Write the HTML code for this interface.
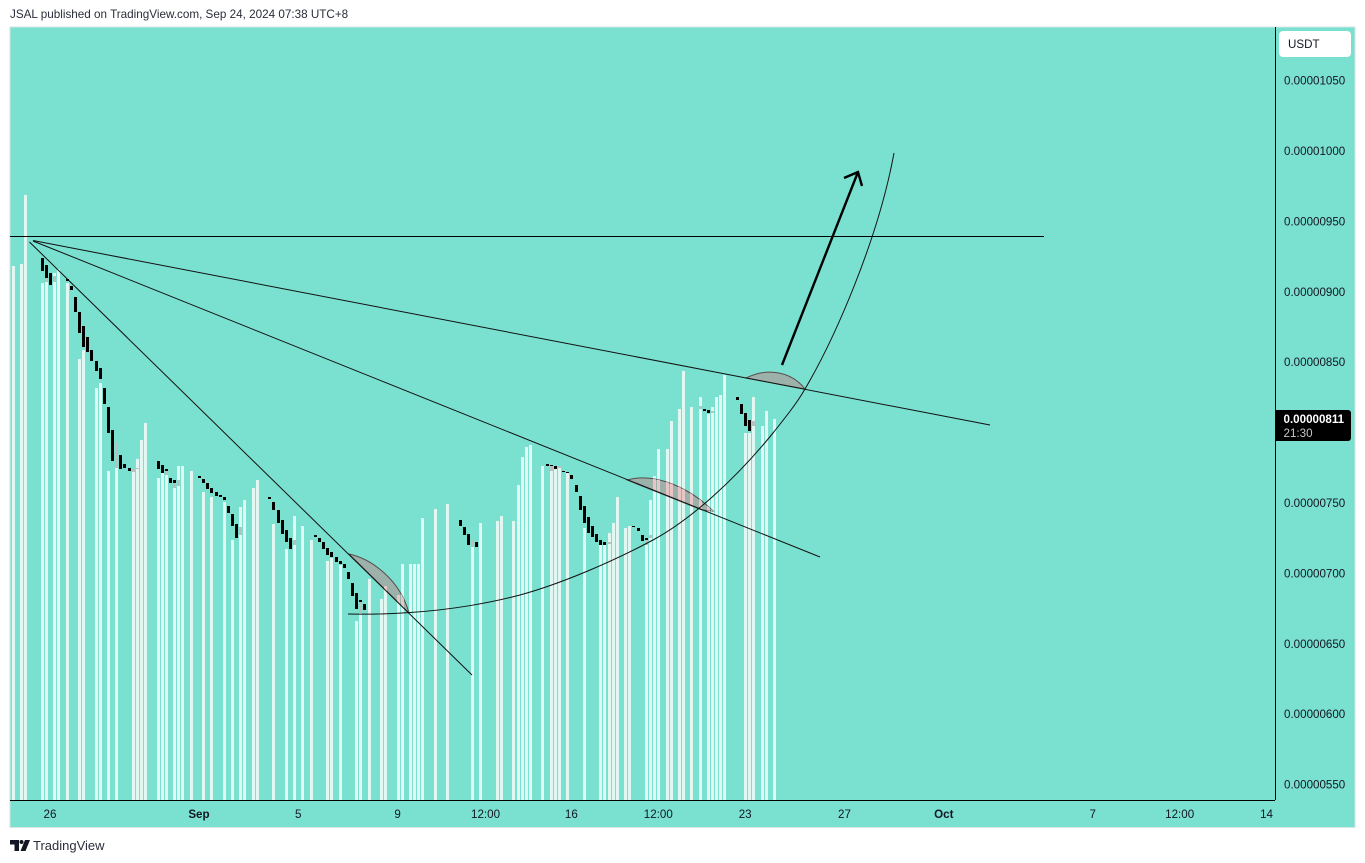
<!DOCTYPE html>
<html lang="en">
<head>
<meta charset="utf-8">
<title>JSAL chart</title>
<style>
html,body{margin:0;padding:0;background:#fff;width:1365px;height:863px;overflow:hidden}
svg{display:block;font-family:"Liberation Sans",sans-serif}
</style>
</head>
<body>
<svg id="chart" xmlns="http://www.w3.org/2000/svg" width="1365" height="863" viewBox="0 0 1365 863">
  <text x="10" y="18" font-size="11.7" fill="#2a2e39">JSAL published on TradingView.com, Sep 24, 2024 07:38 UTC+8</text>
  <rect x="10" y="27" width="1345" height="800.5" fill="#7AE0D0" stroke="#d5e6e3" stroke-width="1"/>
  <g id="bars"></g>

  <defs>
    <clipPath id="arc-clip-1"><path d="M349 554 C372 559,400 580,409 613 Z"/></clipPath>
    <clipPath id="arc-clip-2"><path d="M627 480 C655 472,690 488,713 511 L702 510 Z"/></clipPath>
  </defs>
  <g>
    <path d="M349 554 C372 559,400 580,409 613 Z" fill="#9db1ab" stroke="#5a4a4c" stroke-width="1"/>
    <path d="M627 480 C655 472,690 488,713 511 L702 510 Z" fill="#9db1ab" stroke="#5a4a4c" stroke-width="1"/>
    <path d="M746 378 C768 367,792 372,805 389 Z" fill="#9db1ab" stroke="#5a4a4c" stroke-width="1"/>
  </g>
  <g id="pink1" clip-path="url(#arc-clip-1)"></g>
  <g id="pink2" clip-path="url(#arc-clip-2)"></g>

  <g fill="none" stroke="#111" stroke-width="1">
    <line x1="10" y1="236.5" x2="1044" y2="236.5" stroke="#000" shape-rendering="crispEdges"/>
    <line x1="33" y1="240.5" x2="990" y2="425"/>
    <line x1="33" y1="241" x2="820" y2="557"/>
    <line x1="29.5" y1="242" x2="472" y2="675"/>
    <path d="M348 614 C370 614.5,390 614,410 612.5 C450 610,490 603,520 595 C560 584,610 563,653 540 C690 520,735 480,773 433 C785 418,797 403,805 389 C835 338,878 240,894 153"/>
    <path d="M782 365 L858 172 M844 178 L858 172 L862 186" stroke="#000" stroke-width="2.4"/>
  </g>

  <line x1="1275.5" y1="27" x2="1275.5" y2="800" stroke="#000" stroke-width="1"/>
  <line x1="10" y1="800.5" x2="1275" y2="800.5" stroke="#000" stroke-width="1"/>

  <g id="price-axis"></g>
  <g id="time-axis"></g>

  <g>
    <rect x="1279" y="31" width="72" height="26" rx="4" fill="#fff"/>
    <text x="1288" y="48" font-size="11.6" fill="#131722">USDT</text>
  </g>

  <g>
    <path d="M1275 410 H1348 a3 3 0 0 1 3 3 V438 a3 3 0 0 1 -3 3 H1275 Z" fill="#000"/>
    <text x="1283.5" y="423" font-size="11.6" font-weight="bold" fill="#fff">0.00000811</text>
    <text x="1283.5" y="437" font-size="11.6" fill="#c8c8c8">21:30</text>
  </g>

  <g>
    <path d="M10 840 H19 V851 H14.5 V844.5 H10 Z M25 840 H30 L25.5 851 H20.5 Z" fill="#131722"/>
    <circle cx="21.5" cy="842" r="2" fill="#131722"/>
    <text x="33" y="850" font-size="13" fill="#2a2e39">TradingView</text>
  </g>
</svg>

<script>
// Bar slots are 4-hour candles; slot 9 is Aug 26 00:00.
var lightIndex = [0,2,3,7,8,10,11,13,16,17,20,21,23,25,29,30,31,32,35,36,37,39,40,41,43,46,48,51,53,55,56,58,59,63,66,68,70,72,76,77,79,83,84,86,89,90,93,94,96,97,98,99,102,105,111,113,117,118,121,122,123,124,125,128,130,131,132,134,138,142,143,144,145,146,148,149,153,154,155,156,158,159,161,162,164,166,168,169,170,171,172,177,178,179,181,182,184];
var lightTop = [918,920,969,906,907,913,916,906,852,859,832,835,773,775,772,781,795,807,768,771,772,761,776,776,773,758,754,751,724,747,752,761,766,735,717,741,734,724,709,711,706,666,672,696,682,691,685,707,707,707,707,739,746,749,719,736,737,741,737,763,783,790,791,776,773,775,776,771,732,720,720,729,736,754,732,734,720,752,769,788,788,808,817,844,818,825,813,818,825,827,841,800,800,825,805,815,810];

var darkIndex = [7,8,9,13,14,15,16,17,18,19,20,21,22,23,24,26,27,28,35,36,37,38,39,45,46,47,48,49,50,51,52,53,54,62,63,64,65,66,67,73,74,75,76,77,78,79,80,81,82,83,84,85,108,109,110,112,129,130,131,133,134,135,136,137,138,139,140,141,142,143,150,151,152,153,167,168,175,176,177,178];
var darkHigh = [924,919,913,909,904,896,886,876,868,859,851,846,832,818,802,784,778,775,780,777,774,768,766,769,767,764,761,758,756,754,748,742,735,754,751,745,738,731,725,727,725,722,718,715,712,709,707,701,693,686,681,678,738,733,728,722,778,777,776,773,772,770,763,755,748,740,734,728,724,722,734,732,727,725,817,816,825,820,814,809];
var darkLow = [915,910,905,908,901,886,871,861,857,851,844,838,820,800,780,774,775,773,774,771,773,764,764,768,764,760,757,755,754,752,743,734,725,753,745,736,728,722,717,726,722,717,713,712,708,707,704,696,684,675,680,674,734,727,720,719,776,776,774,772,771,767,758,745,736,729,726,722,720,720,733,730,723,724,815,814,823,813,805,801];

var grayIndex = [8,10,25,29,30,37,39,40,55,68,84,111,130,132,144,153,154,166,169,179];
var grayHigh = [910,911,793,774,775,773,764,766,733,724,680,724,776,776,722,724,727,819,815,808];
var grayLow = [907,907,775,772,774,770,761,762,727,720,672,719,773,775,721,720,725,817,814,805];

var priceTicks = [1050,1000,950,900,850,750,700,650,600,550];
var timeTickLabels = ['26','Sep','5','9','12:00','16','12:00','23','27','Oct','7','12:00','14'];
var timeTickSlots = [9,45,69,93,114.25,135,156,177,201,225,261,282,303];

var SVG_NS = 'http://www.w3.org/2000/svg';
var BAR_WIDTH = 3;
var PANE_BOTTOM = 800;

function xScale(slot) { return 12.76 + 4.138 * slot; }
function yScale(price) { return 151 + (1000 - price) * 1.408; }

function makeRect(parent, slot, highY, lowY, fill) {
  var r = document.createElementNS(SVG_NS, 'rect');
  var top = Math.round(highY);
  var h = Math.max(1, Math.round(lowY) - top);
  r.setAttribute('x', Math.floor(xScale(slot) - 0.5));
  r.setAttribute('y', top);
  r.setAttribute('width', BAR_WIDTH);
  r.setAttribute('height', h);
  r.setAttribute('fill', fill);
  parent.appendChild(r);
  return r;
}

var barsGroup = document.getElementById('bars');
var pink1 = document.getElementById('pink1');
var pink2 = document.getElementById('pink2');

lightIndex.forEach(function (slot, k) {
  var el = makeRect(barsGroup, slot, yScale(lightTop[k]), PANE_BOTTOM, '#E0F7F2');
  
  
  var a = makeRect(pink1, slot, yScale(lightTop[k]), PANE_BOTTOM, '#E8C6C6');
  
  
  var b = makeRect(pink2, slot, yScale(lightTop[k]), PANE_BOTTOM, '#E8C6C6');
  
  
});

grayIndex.forEach(function (slot, k) {
  var el = makeRect(barsGroup, slot, yScale(grayHigh[k]), yScale(grayLow[k]), '#B7C1BE');
  
  
});

darkIndex.forEach(function (slot, k) {
  var el = makeRect(barsGroup, slot, yScale(darkHigh[k]), yScale(darkLow[k]), '#000000');
  
  
});

var priceAxis = document.getElementById('price-axis');
priceTicks.forEach(function (p) {
  var t = document.createElementNS(SVG_NS, 'text');
  
  
  t.setAttribute('x', 1284);
  t.setAttribute('y', yScale(p) + 4);
  t.setAttribute('font-size', '11.6');
  t.setAttribute('fill', '#131722');
  t.textContent = (p * 1e-8).toFixed(8);
  priceAxis.appendChild(t);
});

var timeAxis = document.getElementById('time-axis');
timeTickLabels.forEach(function (label, k) {
  var t = document.createElementNS(SVG_NS, 'text');
  
  
  t.setAttribute('x', xScale(timeTickSlots[k]));
  t.setAttribute('y', 818);
  t.setAttribute('text-anchor', 'middle');
  t.setAttribute('font-size', '11.6');
  t.setAttribute('fill', '#131722');
  if (label === 'Sep' || label === 'Oct') {
    t.setAttribute('font-weight', 'bold');
  }
  t.textContent = label;
  timeAxis.appendChild(t);
});
</script>
</body>
</html>
